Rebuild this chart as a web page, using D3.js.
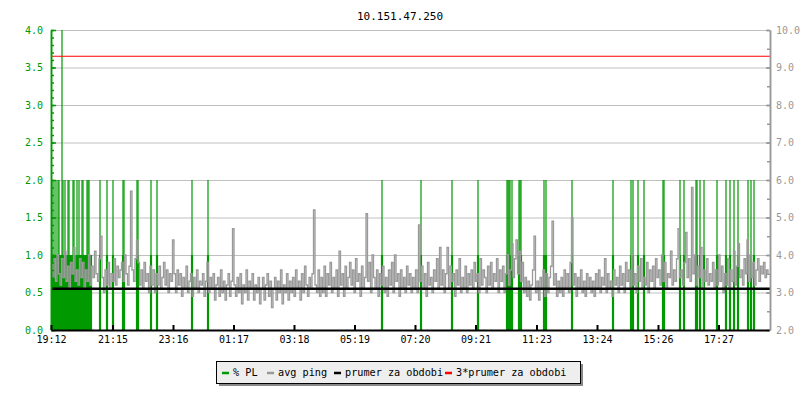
<!DOCTYPE html>
<html>
<head>
<meta charset="utf-8">
<script src="https://cdn.jsdelivr.net/npm/d3@7"></script>
<style>
  body { margin: 0; background: #fff; }
  svg text { font-family: "DejaVu Sans Mono", monospace; }
</style>
</head>
<body>
<div id="chart"></div>
<script>
// avg ping in ms, one sample every 3 minutes from 19:12 (one row = 1 hour)
const pingStep = 3;
const pingValues = [
  3.8,3.4,3.9,3.3,4.0,3.5,3.2,3.9,3.4,4.1,3.3,3.7,3.1,3.8,3.5,4.2,3.3,3.6,3.2,3.9,
  3.4,3.8,3.1,3.6,3.3,4.0,3.2,3.7,3.4,4.1,3.5,3.3,3.9,4.5,3.4,3.0,3.6,3.2,3.8,3.1,
  3.5,3.3,3.9,3.2,3.7,3.4,3.6,3.8,3.3,4.0,3.5,3.2,3.7,5.7,3.6,3.3,3.9,4.4,3.8,3.2,
  3.6,3.1,3.8,3.3,3.5,3.0,3.7,3.2,3.6,3.0,3.5,3.2,3.7,3.1,3.4,3.8,3.2,3.6,3.0,3.5,
  3.3,4.4,3.5,3.0,3.6,3.2,3.5,2.9,3.4,3.1,3.7,3.0,3.3,3.5,2.9,3.4,3.1,3.6,3.0,3.3,
  3.2,3.5,2.9,3.3,3.8,3.0,3.4,3.1,3.5,2.8,3.2,3.4,2.9,3.6,3.0,3.3,2.8,3.2,3.5,2.9,
  3.3,4.7,3.2,2.9,3.4,3.0,3.5,2.7,3.2,3.0,3.6,2.8,3.3,3.1,3.5,2.8,3.2,3.0,3.4,2.7,
  3.1,3.4,2.8,3.2,3.5,2.9,3.3,2.6,3.1,3.4,2.8,3.3,3.0,3.6,2.7,3.2,3.0,3.5,2.8,3.3,
  3.0,3.4,2.9,3.6,3.1,3.3,2.8,3.5,3.0,3.7,3.2,2.9,3.4,3.1,3.5,5.2,3.2,3.0,3.6,2.9,
  3.4,3.0,3.7,2.9,3.5,3.2,3.8,3.0,3.4,3.1,3.6,2.9,4.1,3.2,3.5,2.9,3.7,3.1,3.4,3.8,
  3.2,3.6,3.0,3.9,3.3,3.5,2.9,3.7,3.1,3.4,5.1,3.3,3.8,3.0,4.0,3.4,3.1,3.6,2.9,3.5,
  3.2,3.7,3.0,3.4,2.9,3.6,3.2,3.8,3.0,4.0,3.3,3.5,2.9,3.6,3.1,3.4,3.0,3.7,3.2,3.5,
  3.0,3.4,3.1,3.6,3.0,4.8,3.3,3.7,3.1,3.5,2.9,3.8,3.2,3.4,3.0,3.6,3.3,3.9,3.1,4.2,
  3.2,3.6,3.0,3.5,4.2,3.1,3.7,3.3,3.5,2.9,3.6,3.2,3.9,3.0,3.4,3.1,3.7,3.0,3.5,3.2,
  3.6,3.1,3.8,3.3,3.5,3.0,3.9,3.2,3.6,3.4,3.0,3.7,3.2,3.8,3.1,3.5,3.3,3.9,3.0,3.6,
  3.3,3.7,3.0,3.5,4.0,3.2,3.6,4.3,3.4,3.9,4.4,3.5,4.1,3.3,3.8,3.0,3.4,2.9,3.3,2.8,
  3.2,3.6,4.5,3.0,3.3,2.8,3.4,3.1,3.6,2.9,3.5,3.0,3.4,3.7,4.9,3.2,3.5,2.9,3.3,3.0,
  3.4,2.9,3.6,3.1,3.5,3.0,3.8,5.0,3.2,3.5,2.9,3.4,3.1,3.6,3.0,3.3,2.9,3.5,3.1,3.4,
  3.0,3.3,2.9,3.5,3.1,3.6,3.0,3.4,3.2,3.9,3.0,3.5,3.1,3.3,2.9,3.6,3.2,3.4,3.0,3.7,
  3.2,3.5,3.0,3.8,3.3,3.6,3.1,4.0,3.2,3.5,3.0,3.7,3.3,3.9,3.1,3.4,3.2,3.8,3.0,3.6,
  3.3,3.7,3.1,3.9,3.4,3.6,3.2,4.0,3.3,3.8,3.1,3.5,3.4,4.1,3.2,3.6,3.3,3.9,4.7,3.4,
  3.6,3.2,3.8,4.6,3.4,3.9,3.3,5.8,3.5,4.0,3.2,3.7,3.4,4.2,3.1,3.6,3.3,3.9,3.2,3.5,
  3.3,3.8,3.1,3.6,3.2,4.0,3.3,3.7,3.0,3.5,3.2,3.9,3.1,3.6,3.3,4.1,3.2,3.7,4.3,3.4,
  3.6,3.2,3.9,3.5,4.4,3.3,4.0,3.4,3.8,3.2,3.6,3.9,3.3,3.7,3.5,3.8,3.4,3.6,3.5
];

// packet loss events: minutes after 19:12 and % lost
const plMinutes = [
  2,4,6,8,10,12,14,16,18,20,22,24,26,28,32,34,36,38,40,42,44,46,48,52,54,56,58,
  62,64,66,68,70,72,74,76,78,80,98,112,124,144,146,172,174,200,212,282,314,
  662,740,802,854,912,914,916,918,922,936,938,940,986,990,1042,
  1124,1160,1164,1174,1186,1224,1226,1258,1266,1290,1292,1298,1306,
  1332,1350,1358,1366,1374,1394,1400,1406
];
const plValues = [
  2,1,2,1,2,1,2,2,1,1,4,2,1,2,1,2,2,1,1,1,2,2,1,2,1,2,1,
  2,2,1,1,1,2,2,2,1,1,2,2,2,2,2,2,2,2,2,2,2,
  2,2,2,2,2,2,2,2,2,2,2,2,2,2,2,
  2,2,2,2,2,2,2,2,2,2,2,2,2,
  2,2,2,2,2,2,2,2
];

const avgPing = 3.1;          // prumer za obdobi
const avgPing3 = 3 * avgPing; // 3*prumer za obdobi

const startLabel = "19:12";
const xTickLabels = ["19:12","21:15","23:16","01:17","03:18","05:19","07:20","09:21","11:23","13:24","15:26","17:27"];
const totalMinutes = 1436;

const legendLabels = ["% PL", "avg ping", "prumer za obdobi", "3*prumer za obdobi"];
const legendColors = ["#009900", "#999999", "#000000", "#ff0000"];

const title = "10.151.47.250";

const width = 800, height = 400;
const plotLeft = 51, plotRight = 770, plotTop = 30, plotBottom = 330;

const toMin = s => { const [h, m] = s.split(":").map(Number); return h * 60 + m; };
const start = toMin(startLabel);
const sinceStart = s => (toMin(s) - start + 1440) % 1440;

const svg = d3.select("#chart").append("svg")
    .attr("width", width)
    .attr("height", height);

const x = d3.scaleLinear().domain([0, totalMinutes]).range([plotLeft, plotRight - 1]);
const yPL = d3.scaleLinear().domain([0, 4]).range([plotBottom, plotTop]);
const yPing = d3.scaleLinear().domain([2, 10]).range([plotBottom, plotTop]);

// horizontal grid
svg.append("g")
    .selectAll("line")
    .data(d3.range(0.5, 4.01, 0.5))
    .enter()
    .append("line")
    .attr("x1", plotLeft).attr("x2", plotRight)
    .attr("y1", d => yPL(d) + 0.5).attr("y2", d => yPL(d) + 0.5)
    .attr("stroke", "#c0c0c0")
    .attr("stroke-width", 1);

// packet loss
const pl = plMinutes.map((m, i) => ({ m: m, v: plValues[i] }));
const plG = svg.append("g");
plG.selectAll("line.up")
    .data(pl)
    .enter()
    .append("line")
    .attr("class", "up")
    .attr("x1", d => x(d.m)).attr("x2", d => x(d.m))
    .attr("y1", yPL(0)).attr("y2", d => yPL(d.v))
    .attr("stroke", "#009900")
    .attr("stroke-width", 1.2);
plG.selectAll("line.low")
    .data(pl)
    .enter()
    .append("line")
    .attr("class", "low")
    .attr("x1", d => x(d.m)).attr("x2", d => x(d.m))
    .attr("y1", yPL(0)).attr("y2", d => yPL(Math.min(d.v, 1)))
    .attr("stroke", "#009900")
    .attr("stroke-width", 2.2);

// avg ping
const pingLine = d3.line()
    .x((d, i) => x(i * pingStep))
    .y(d => yPing(d))
    .curve(d3.curveStepAfter);

svg.append("path")
    .datum(pingValues)
    .attr("d", pingLine)
    .attr("fill", "none")
    .attr("stroke", "#9a9a9a")
    .attr("stroke-width", 1.3);

// averages
svg.append("line")
    .attr("x1", plotLeft).attr("x2", plotRight)
    .attr("y1", yPing(avgPing)).attr("y2", yPing(avgPing))
    .attr("stroke", "#000")
    .attr("stroke-width", 2.5);

svg.append("line")
    .attr("x1", plotLeft).attr("x2", plotRight)
    .attr("y1", yPing(avgPing3)).attr("y2", yPing(avgPing3))
    .attr("stroke", "#ff0000")
    .attr("stroke-width", 1.2);

// left axis (PL)
const leftMinor = svg.append("g")
    .attr("transform", `translate(${plotLeft}, 0)`)
    .call(d3.axisLeft(yPL).tickValues(d3.range(0, 4.01, 0.1)).tickSizeInner(-3).tickSizeOuter(0).tickFormat(""));
const leftAxis = svg.append("g")
    .attr("transform", `translate(${plotLeft}, 0)`)
    .call(d3.axisLeft(yPL).tickValues(d3.range(0, 4.01, 0.5)).tickSizeInner(-5).tickSizeOuter(0).tickPadding(8).tickFormat(d3.format(".1f")));
[leftMinor, leftAxis].forEach(g => {
    g.selectAll("path, line").attr("stroke", "#009900").attr("stroke-width", 1.5);
    g.selectAll("text").attr("fill", "#009900").style("font-size", "10px");
});

// right axis (ping)
const rightMinor = svg.append("g")
    .attr("transform", `translate(${plotRight}, 0)`)
    .call(d3.axisRight(yPing).tickValues(d3.range(2, 10.01, 0.5)).tickSizeInner(-3).tickSizeOuter(0).tickFormat(""));
const rightAxis = svg.append("g")
    .attr("transform", `translate(${plotRight}, 0)`)
    .call(d3.axisRight(yPing).tickValues(d3.range(2, 10.01, 1)).tickSizeInner(-4).tickSizeOuter(0).tickPadding(6).tickFormat(d3.format(".1f")));
[rightMinor, rightAxis].forEach(g => {
    g.selectAll("path, line").attr("stroke", "#999999").attr("stroke-width", 1.5);
    g.selectAll("text").attr("fill", "#999999").style("font-size", "10px");
});

// x axis
const xAxis = svg.append("g")
    .attr("transform", `translate(0, ${plotBottom})`)
    .call(d3.axisBottom(x)
        .tickValues(xTickLabels.map(sinceStart))
        .tickSizeInner(-5).tickSizeOuter(0).tickPadding(6)
        .tickFormat((d, i) => xTickLabels[i]));
xAxis.selectAll("path, line").attr("stroke", "#000").attr("stroke-width", 2);
xAxis.selectAll("text").attr("fill", "#000").style("font-size", "10px");

// title
svg.append("text")
    .attr("x", width / 2)
    .attr("y", 20)
    .attr("text-anchor", "middle")
    .style("font-size", "11px")
    .text(title);

// legend
const legend = svg.append("g");
legend.append("rect")
    .attr("x", 219).attr("y", 364).attr("width", 364).attr("height", 22)
    .attr("fill", "#888");
legend.append("rect")
    .attr("x", 216.5).attr("y", 361.5).attr("width", 364).attr("height", 22)
    .attr("fill", "#eeeeee")
    .attr("stroke", "#000")
    .attr("stroke-width", 1);

const legendX = [222, 267, 334, 445];
legendLabels.forEach((label, i) => {
    legend.append("line")
        .attr("x1", legendX[i]).attr("x2", legendX[i] + 7)
        .attr("y1", 373).attr("y2", 373)
        .attr("stroke", legendColors[i])
        .attr("stroke-width", 2.5);
    legend.append("text")
        .attr("x", legendX[i] + 11)
        .attr("y", 376)
        .style("font-size", "10.2px")
        .text(label);
});
</script>
</body>
</html>
